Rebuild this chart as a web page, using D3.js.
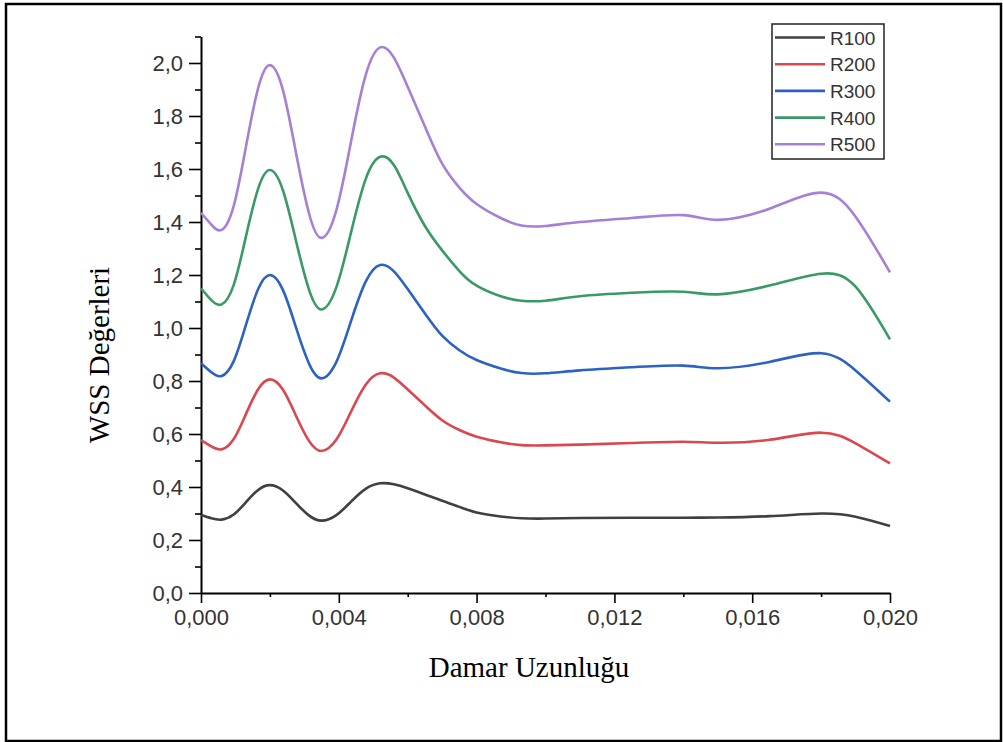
<!DOCTYPE html>
<html lang="en">
<head>
    <meta charset="UTF-8">
    <title>WSS Değerleri</title>
    <style>
        body { margin: 0; background: #fff; }
        svg { display: block; }
    </style>
</head>
<body>
    <svg id="chart"></svg>

    <script src="https://d3js.org/d3.v7.min.js"></script>

    <script>
// Data
const xValues = [0, 0.0003, 0.0006, 0.00095, 0.0013, 0.00165, 0.002, 0.00238, 0.00275, 0.00313, 0.0035,
    0.00393, 0.00435, 0.00478, 0.0052, 0.0056, 0.006, 0.0065, 0.007, 0.0075, 0.008, 0.0087, 0.0093, 0.010,
    0.011, 0.0125, 0.014, 0.015, 0.0165, 0.018, 0.019, 0.02];
const r100 = [0.294, 0.282, 0.277, 0.296, 0.342, 0.388, 0.407, 0.387, 0.34, 0.293, 0.273,
    0.294, 0.344, 0.393, 0.414, 0.41, 0.395, 0.372, 0.348, 0.325, 0.304, 0.289, 0.282, 0.281,
    0.283, 0.284, 0.284, 0.285, 0.29, 0.30, 0.288, 0.253];
const r200 = [0.577, 0.553, 0.542, 0.581, 0.674, 0.767, 0.806, 0.767, 0.671, 0.575, 0.536,
    0.579, 0.683, 0.786, 0.829, 0.813, 0.768, 0.708, 0.652, 0.615, 0.59, 0.569, 0.558, 0.557,
    0.56, 0.566, 0.571, 0.567, 0.578, 0.605, 0.565, 0.489];
const r300 = [0.867, 0.833, 0.819, 0.875, 1.01, 1.144, 1.20, 1.143, 1.005, 0.867, 0.81,
    0.872, 1.024, 1.175, 1.238, 1.214, 1.147, 1.055, 0.971, 0.916, 0.879, 0.847, 0.830, 0.829,
    0.84, 0.852, 0.858, 0.848, 0.872, 0.905, 0.84, 0.722];
const r400 = [1.150, 1.105, 1.089, 1.163, 1.343, 1.522, 1.596, 1.519, 1.333, 1.147, 1.07,
    1.154, 1.358, 1.562, 1.646, 1.615, 1.51, 1.385, 1.293, 1.215, 1.16, 1.12, 1.103, 1.103,
    1.12, 1.133, 1.137, 1.127, 1.16, 1.205, 1.156, 0.957];
const r500 = [1.435, 1.39, 1.37, 1.461, 1.681, 1.901, 1.992, 1.897, 1.666, 1.435, 1.34,
    1.445, 1.70, 1.954, 2.059, 2.02, 1.91, 1.76, 1.62, 1.53, 1.468, 1.415, 1.387, 1.385,
    1.40, 1.415, 1.426, 1.408, 1.45, 1.511, 1.42, 1.21];

const seriesNames = ["R100", "R200", "R300", "R400", "R500"];
const seriesValues = [r100, r200, r300, r400, r500];
const seriesColors = ["#404040", "#d9474f", "#2c62c4", "#3a9a66", "#a67fd6"];

const xTicks = [0, 0.004, 0.008, 0.012, 0.016, 0.020];
const yTicks = [0, 0.2, 0.4, 0.6, 0.8, 1.0, 1.2, 1.4, 1.6, 1.8, 2.0];

const width = 1003;
const height = 742;

// comma as decimal separator
const locale = d3.formatLocale({ decimal: ",", thousands: ".", grouping: [3], currency: ["", ""] });
const fmtX = locale.format(".3f");
const fmtY = locale.format(".1f");

const svg = d3.select("#chart")
    .attr("width", width)
    .attr("height", height);

// outer frame
svg.append("rect")
    .attr("x", 6)
    .attr("y", 4)
    .attr("width", 995)
    .attr("height", 737)
    .attr("fill", "none")
    .attr("stroke", "#000")
    .attr("stroke-width", 2.5);

const x = d3.scaleLinear().domain([0, 0.02]).range([201, 890]);
const y = d3.scaleLinear().domain([0, 2.1]).range([593, 36.5]);

// minor ticks
svg.append("g")
    .attr("transform", "translate(0,593)")
    .call(d3.axisBottom(x).tickValues(d3.range(0.002, 0.02, 0.004)).tickSize(4).tickFormat(""))
    .call(g => g.select(".domain").remove());

svg.append("g")
    .attr("transform", "translate(201,0)")
    .call(d3.axisLeft(y).tickValues(d3.range(0.1, 2.15, 0.2)).tickSize(6).tickFormat(""))
    .call(g => g.select(".domain").remove());

// major axes
svg.append("g")
    .attr("transform", "translate(0,593)")
    .call(d3.axisBottom(x).tickValues(xTicks).tickSize(10).tickSizeOuter(0).tickFormat(fmtX).tickPadding(6));

svg.append("g")
    .attr("transform", "translate(201,0)")
    .call(d3.axisLeft(y).tickValues(yTicks).tickSize(12).tickSizeOuter(0).tickFormat(fmtY).tickPadding(6));

svg.selectAll(".tick line").attr("stroke", "#000").attr("stroke-width", 1.6);
svg.selectAll(".domain").attr("stroke", "#000").attr("stroke-width", 2);
svg.selectAll(".tick text")
    .attr("fill", "#333")
    .style("font-family", "'Liberation Sans', Arial, sans-serif")
    .style("font-size", "22px");

// lines
const line = d3.line()
    .x((d, i) => x(xValues[i]))
    .y(d => y(d))
    .curve(d3.curveNatural);

svg.append("g")
    .selectAll("path")
    .data(seriesValues)
    .enter()
    .append("path")
    .attr("d", line)
    .attr("fill", "none")
    .attr("stroke", (d, i) => seriesColors[i])
    .attr("stroke-width", 2.6);

// axis titles
svg.append("text")
    .attr("x", 529)
    .attr("y", 677)
    .attr("text-anchor", "middle")
    .style("font-family", "'Liberation Serif', 'Times New Roman', serif")
    .style("font-size", "29px")
    .text("Damar Uzunluğu");

svg.append("text")
    .attr("transform", "translate(109,355) rotate(-90)")
    .attr("text-anchor", "middle")
    .style("font-family", "'Liberation Serif', 'Times New Roman', serif")
    .style("font-size", "29px")
    .text("WSS Değerleri");

// legend
const legend = svg.append("g");
legend.append("rect")
    .attr("x", 772)
    .attr("y", 24)
    .attr("width", 112)
    .attr("height", 135)
    .attr("fill", "#fff")
    .attr("stroke", "#222")
    .attr("stroke-width", 1.5);

const rows = legend.selectAll(".row")
    .data(seriesNames)
    .enter()
    .append("g")
    .attr("class", "row")
    .attr("transform", (d, i) => `translate(0,${37.5 + i * 26.7})`);

rows.append("line")
    .attr("x1", 775)
    .attr("x2", 825)
    .attr("stroke", (d, i) => seriesColors[i])
    .attr("stroke-width", 2.6);

rows.append("text")
    .attr("x", 830)
    .attr("y", 7)
    .attr("fill", "#333")
    .style("font-family", "'Liberation Sans', Arial, sans-serif")
    .style("font-size", "19px")
    .text(d => d);
    </script>
</body>
</html>
